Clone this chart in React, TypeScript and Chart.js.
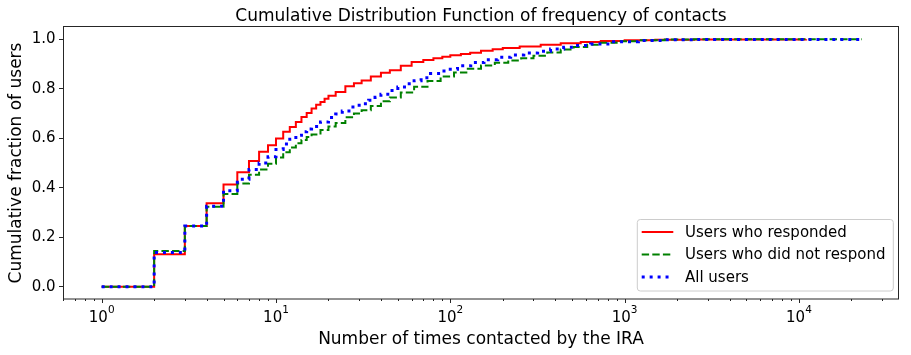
import React, { useEffect, useRef } from "react";
import { Chart, registerables } from "chart.js";

Chart.register(...registerables);

// ---- data ----
const respondedX = [1, 2, 3, 4, 5, 6, 7, 8, 9, 10, 11, 12, 13, 14, 15, 16, 17, 18, 19, 20, 22, 25, 28, 31, 35, 40, 45, 52, 60, 70, 80, 90, 100, 115, 130, 150, 175, 200, 250, 330, 430, 560, 730, 1000, 1500, 2500, 11000];
const respondedY = [0, 0.131, 0.245, 0.337, 0.413, 0.463, 0.508, 0.545, 0.572, 0.599, 0.626, 0.646, 0.666, 0.686, 0.702, 0.72, 0.736, 0.747, 0.76, 0.772, 0.787, 0.81, 0.823, 0.834, 0.85, 0.865, 0.875, 0.893, 0.908, 0.917, 0.924, 0.93, 0.936, 0.941, 0.946, 0.954, 0.96, 0.965, 0.971, 0.978, 0.984, 0.989, 0.993, 0.996, 0.998, 0.9995, 1.0];

const notRespondedX = [1, 2, 3, 4, 5, 6, 7, 8, 9, 10, 11, 12, 13, 14, 15, 16, 18, 20, 22, 25, 28, 31, 35, 40, 45, 52, 62, 74, 88, 105, 126, 150, 180, 215, 255, 300, 360, 430, 510, 610, 730, 900, 1200, 1700, 2500, 23000];
const notRespondedY = [0, 0.144, 0.245, 0.323, 0.375, 0.417, 0.452, 0.474, 0.497, 0.522, 0.543, 0.563, 0.58, 0.593, 0.605, 0.615, 0.633, 0.648, 0.662, 0.685, 0.7, 0.713, 0.731, 0.75, 0.765, 0.785, 0.808, 0.832, 0.85, 0.866, 0.881, 0.894, 0.905, 0.915, 0.924, 0.934, 0.947, 0.959, 0.969, 0.978, 0.986, 0.992, 0.996, 0.999, 1.0, 1.0];

const allUsersX = [1, 2, 3, 4, 5, 6, 7, 8, 9, 10, 11, 12, 13, 14, 15, 16, 18, 20, 22, 24, 27, 30, 34, 37, 40, 45, 50, 56, 62, 68, 77, 92, 110, 131, 156, 187, 222, 264, 317, 376, 447, 537, 638, 864, 1200, 1700, 2500, 23000];
const allUsersY = [0, 0.138, 0.245, 0.325, 0.388, 0.434, 0.474, 0.5, 0.525, 0.555, 0.577, 0.596, 0.612, 0.626, 0.638, 0.648, 0.666, 0.684, 0.698, 0.71, 0.726, 0.74, 0.754, 0.766, 0.778, 0.793, 0.807, 0.82, 0.833, 0.845, 0.862, 0.879, 0.893, 0.906, 0.918, 0.928, 0.937, 0.945, 0.952, 0.961, 0.968, 0.975, 0.981, 0.99, 0.995, 0.998, 0.9995, 1.0];

const seriesLabels = ["Users who responded", "Users who did not respond", "All users"];
const seriesColors = ["#ff0000", "#008000", "#0000ff"];
const yTickValues = [0, 0.2, 0.4, 0.6, 0.8, 1.0];
const xTickExponents = [0, 1, 2, 3, 4];
const titleText = "Cumulative Distribution Function of frequency of contacts";
const xTitle = "Number of times contacted by the IRA";
const yTitle = "Cumulative fraction of users";

const FONT = '"DejaVu Sans", "Liberation Sans", sans-serif';
const dashes: number[][] = [[], [7.4, 3.2], [3, 4.95]];
const widths = [2, 2, 3];

function pts(xs: number[], ys: number[]) {
  return xs.map((x, i) => ({ x, y: ys[i] }));
}

const overlayPlugin = {
  id: "overlay",
  afterDraw(chart: any) {
    const { ctx, chartArea: a, scales } = chart;
    const xs = scales.x;
    ctx.save();
    // frame
    ctx.strokeStyle = "#262626";
    ctx.lineWidth = 1;
    ctx.setLineDash([]);
    ctx.strokeRect(a.left + 0.5, a.top - 0.5, a.right - a.left - 1, a.bottom - a.top + 0.5);

    // x ticks (major and minor)
    ctx.beginPath();
    for (let e = -1; e <= 4; e++) {
      for (let m = 1; m <= 9; m++) {
        const v = m * Math.pow(10, e);
        if (v < xs.min || v > xs.max) continue;
        const px = Math.round(xs.getPixelForValue(v)) + 0.5;
        const len = m === 1 ? 4 : 2;
        ctx.moveTo(px, a.bottom);
        ctx.lineTo(px, a.bottom + len);
      }
    }
    ctx.stroke();

    // x tick labels 10^k
    ctx.fillStyle = "#000";
    ctx.textBaseline = "alphabetic";
    ctx.textAlign = "left";
    for (const e of xTickExponents) {
      const px = xs.getPixelForValue(Math.pow(10, e));
      ctx.font = `15px ${FONT}`;
      const w1 = ctx.measureText("10").width;
      ctx.font = `10.5px ${FONT}`;
      const w2 = ctx.measureText(String(e)).width;
      const start = px - (w1 + w2) / 2;
      ctx.font = `15px ${FONT}`;
      ctx.fillText("10", start, a.bottom + 22.5);
      ctx.font = `10.5px ${FONT}`;
      ctx.fillText(String(e), start + w1, a.bottom + 13.5);
    }

    // titles
    ctx.font = `17px ${FONT}`;
    ctx.textAlign = "center";
    const cx = (a.left + a.right) / 2;
    ctx.fillText(titleText, cx, 20.7);
    ctx.fillText(xTitle, cx, 344);
    ctx.save();
    ctx.translate(20.7, (a.top + a.bottom) / 2);
    ctx.rotate(-Math.PI / 2);
    ctx.fillText(yTitle, 0, 0);
    ctx.restore();

    // legend
    const bw = 256, bh = 71.5;
    const bx = a.right - 5.7 - bw;
    const by = a.bottom - 8 - bh;
    ctx.beginPath();
    const r = 3;
    ctx.moveTo(bx + r, by);
    ctx.lineTo(bx + bw - r, by);
    ctx.arcTo(bx + bw, by, bx + bw, by + r, r);
    ctx.lineTo(bx + bw, by + bh - r);
    ctx.arcTo(bx + bw, by + bh, bx + bw - r, by + bh, r);
    ctx.lineTo(bx + r, by + bh);
    ctx.arcTo(bx, by + bh, bx, by + bh - r, r);
    ctx.lineTo(bx, by + r);
    ctx.arcTo(bx, by, bx + r, by, r);
    ctx.closePath();
    ctx.fillStyle = "rgba(255,255,255,0.8)";
    ctx.fill();
    ctx.strokeStyle = "#cccccc";
    ctx.lineWidth = 1;
    ctx.stroke();

    ctx.textAlign = "left";
    ctx.textBaseline = "middle";
    ctx.font = `15px ${FONT}`;
    for (let i = 0; i < seriesLabels.length; i++) {
      const ry = by + 12.4 + i * 22.5;
      ctx.beginPath();
      ctx.strokeStyle = seriesColors[i];
      ctx.lineWidth = widths[i];
      ctx.lineCap = "butt";
      ctx.setLineDash(dashes[i]);
      ctx.moveTo(bx + 4.4, ry);
      ctx.lineTo(bx + 36, ry);
      ctx.stroke();
      ctx.setLineDash([]);
      ctx.fillStyle = "#000";
      ctx.fillText(seriesLabels[i], bx + 47.7, ry + 1);
    }
    ctx.restore();
  },
};

export default function App() {
  const canvasRef = useRef<HTMLCanvasElement | null>(null);

  useEffect(() => {
    document.body.style.margin = "0";
    const canvas = canvasRef.current;
    if (!canvas) return;
    const mk = (i: number, xs: number[], ys: number[], order: number) => ({
      label: seriesLabels[i],
      data: pts(xs, ys),
      borderColor: seriesColors[i],
      backgroundColor: seriesColors[i],
      borderWidth: widths[i],
      borderDash: dashes[i],
      borderCapStyle: "butt" as const,
      stepped: "before" as const,
      pointRadius: 0,
      fill: false,
      order,
    });
    const chart = new Chart(canvas, {
      type: "line",
      data: {
        datasets: [
          mk(0, respondedX, respondedY, 3),
          mk(1, notRespondedX, notRespondedY, 2),
          mk(2, allUsersX, allUsersY, 1),
        ],
      },
      options: {
        animation: false,
        responsive: false,
        maintainAspectRatio: false,
        layout: { padding: { top: 27, right: 12, left: 0, bottom: 0 } },
        plugins: {
          legend: { display: false },
          title: { display: false },
          tooltip: { enabled: false },
        },
        scales: {
          x: {
            type: "logarithmic",
            min: 0.616,
            max: 37500,
            grid: { display: false },
            border: { display: false },
            ticks: { display: false },
            afterFit: (s: any) => {
              s.height = 56;
            },
          },
          y: {
            type: "linear",
            min: -0.05,
            max: 1.05,
            border: { display: false },
            grid: {
              drawOnChartArea: false,
              drawTicks: true,
              tickLength: 4,
              tickColor: "#262626",
              tickWidth: 1,
            },
            ticks: {
              padding: 3.5,
              color: "#000",
              font: { family: FONT, size: 15 },
              callback: (v: any) => Number(v).toFixed(1),
              autoSkip: false,
            },
            afterBuildTicks: (s: any) => {
              s.ticks = yTickValues.map((v) => ({ value: v }));
            },
            afterFit: (s: any) => {
              s.width = 63;
            },
          },
        },
      },
      plugins: [overlayPlugin],
    });
    return () => chart.destroy();
  }, []);

  return (
    <div style={{ width: 911, height: 355 }}>
      <canvas ref={canvasRef} width={911} height={355} style={{ display: "block" }} />
    </div>
  );
}
